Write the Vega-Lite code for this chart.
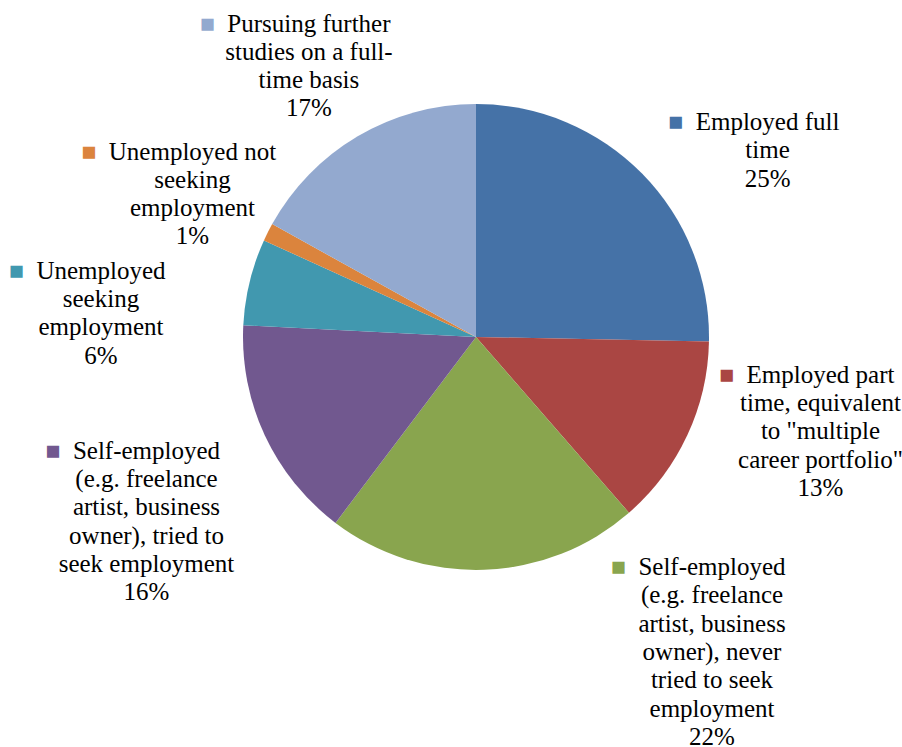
{
  "$schema": "https://vega.github.io/schema/vega-lite/v6.json",
  "width": 852,
  "height": 674,
  "autosize": {"type": "none"},
  "padding": {"left": 50, "top": 0, "right": 0, "bottom": 73},
  "background": "white",
  "view": {"stroke": null},
  "config": {"font": "Liberation Serif"},
  "data": {
    "values": [
      {"cat": "Employed full time", "share": 25.3, "label": "Employed full\ntime\n25%"},
      {"cat": "Employed part time, equivalent to \"multiple career portfolio\"", "share": 13.3, "label": "Employed part\ntime, equivalent\nto \"multiple\ncareer portfolio\"\n13%"},
      {"cat": "Self-employed (e.g. freelance artist, business owner), never tried to seek employment", "share": 21.7, "label": "Self-employed\n(e.g. freelance\nartist, business\nowner), never\ntried to seek\nemployment\n22%"},
      {"cat": "Self-employed (e.g. freelance artist, business owner), tried to seek employment", "share": 15.5, "label": "Self-employed\n(e.g. freelance\nartist, business\nowner), tried to\nseek employment\n16%"},
      {"cat": "Unemployed seeking employment", "share": 6.0, "label": "Unemployed\nseeking\nemployment\n6%"},
      {"cat": "Unemployed not seeking employment", "share": 1.25, "label": "Unemployed not\nseeking\nemployment\n1%"},
      {"cat": "Pursuing further studies on a full-time basis", "share": 16.95, "label": "Pursuing further\nstudies on a full-\ntime basis\n17%"}
    ]
  },
  "transform": [
    {"window": [{"op": "sum", "field": "share", "as": "cum"}, {"op": "row_number", "as": "row"}], "frame": [null, 0]},
    {"calculate": "datum.cum - datum.share", "as": "start"},
    {"calculate": "(datum.cum - datum.share / 2) * PI / 50 + [0.1407, -0.3271, -0.7636, 0.1042, -0.0642, 0.1127, 0.0429][datum.row - 1]", "as": "lt"},
    {"calculate": "[362.2, 346.6, 329.6, 348.6, 380.8, 338.8, 355.2][datum.row - 1]", "as": "lr"},
    {"calculate": "split(datum.label, '\\n')", "as": "lines"},
    {"calculate": "'■\u00a0\u00a0' + datum.lines[0] + pad('', length(datum.lines) - 1, '\\n')", "as": "head"},
    {"calculate": "substring(datum.label, length(datum.lines[0]))", "as": "rest"}
  ],
  "layer": [
    {
      "mark": {"type": "arc", "outerRadius": 233},
      "encoding": {
        "theta": {"field": "start", "type": "quantitative", "scale": {"domain": [0, 100]}, "stack": null},
        "theta2": {"field": "cum"},
        "color": {
          "field": "cat", "type": "nominal", "legend": null,
          "scale": {
            "domain": ["Employed full time", "Employed part time, equivalent to \"multiple career portfolio\"", "Self-employed (e.g. freelance artist, business owner), never tried to seek employment", "Self-employed (e.g. freelance artist, business owner), tried to seek employment", "Unemployed seeking employment", "Unemployed not seeking employment", "Pursuing further studies on a full-time basis"],
            "range": ["#4572A7", "#AA4643", "#89A54E", "#71588F", "#4198AF", "#DB843D", "#93A9CF"]
          }
        }
      }
    },
    {
      "mark": {"type": "text", "font": "Times New Roman, Liberation Serif, serif", "fontSize": 25, "lineHeight": 28.3, "lineBreak": "\n", "align": "center", "baseline": "middle", "dx": -13.8},
      "encoding": {
        "theta": {"field": "lt", "type": "quantitative", "scale": null, "stack": null},
        "radius": {"field": "lr", "type": "quantitative", "scale": null},
        "text": {"field": "head"},
        "color": {"field": "cat", "type": "nominal", "legend": null}
      }
    },
    {
      "mark": {
        "type": "text", "font": "Times New Roman, Liberation Serif, serif", "fontSize": 25, "lineHeight": 28.3, "lineBreak": "\n", "align": "center", "baseline": "middle", "dx": -13.8,
        "fill": {"gradient": "linear", "x1": 0, "y1": 0, "x2": 1, "y2": 0, "stops": [{"offset": 0, "color": "rgba(255,255,255,0)"}, {"offset": 0.125, "color": "rgba(255,255,255,0)"}, {"offset": 0.125, "color": "#ffffff"}, {"offset": 1, "color": "#ffffff"}]},
        "stroke": {"gradient": "linear", "x1": 0, "y1": 0, "x2": 1, "y2": 0, "stops": [{"offset": 0, "color": "rgba(255,255,255,0)"}, {"offset": 0.125, "color": "rgba(255,255,255,0)"}, {"offset": 0.125, "color": "#ffffff"}, {"offset": 1, "color": "#ffffff"}]},
        "strokeWidth": 2.5
      },
      "encoding": {
        "theta": {"field": "lt", "type": "quantitative", "scale": null, "stack": null},
        "radius": {"field": "lr", "type": "quantitative", "scale": null},
        "text": {"field": "head"}
      }
    },
    {
      "mark": {
        "type": "text", "font": "Times New Roman, Liberation Serif, serif", "fontSize": 25, "lineHeight": 28.3, "lineBreak": "\n", "align": "center", "baseline": "middle", "dx": -13.8,
        "fill": {"gradient": "linear", "x1": 0, "y1": 0, "x2": 1, "y2": 0, "stops": [{"offset": 0, "color": "rgba(0,0,0,0)"}, {"offset": 0.125, "color": "rgba(0,0,0,0)"}, {"offset": 0.125, "color": "#000000"}, {"offset": 1, "color": "#000000"}]}
      },
      "encoding": {
        "theta": {"field": "lt", "type": "quantitative", "scale": null, "stack": null},
        "radius": {"field": "lr", "type": "quantitative", "scale": null},
        "text": {"field": "head"}
      }
    },
    {
      "mark": {"type": "text", "font": "Times New Roman, Liberation Serif, serif", "fontSize": 25, "lineHeight": 28.3, "lineBreak": "\n", "align": "center", "baseline": "middle", "fill": "#000000"},
      "encoding": {
        "theta": {"field": "lt", "type": "quantitative", "scale": null, "stack": null},
        "radius": {"field": "lr", "type": "quantitative", "scale": null},
        "text": {"field": "rest"}
      }
    }
  ]
}
